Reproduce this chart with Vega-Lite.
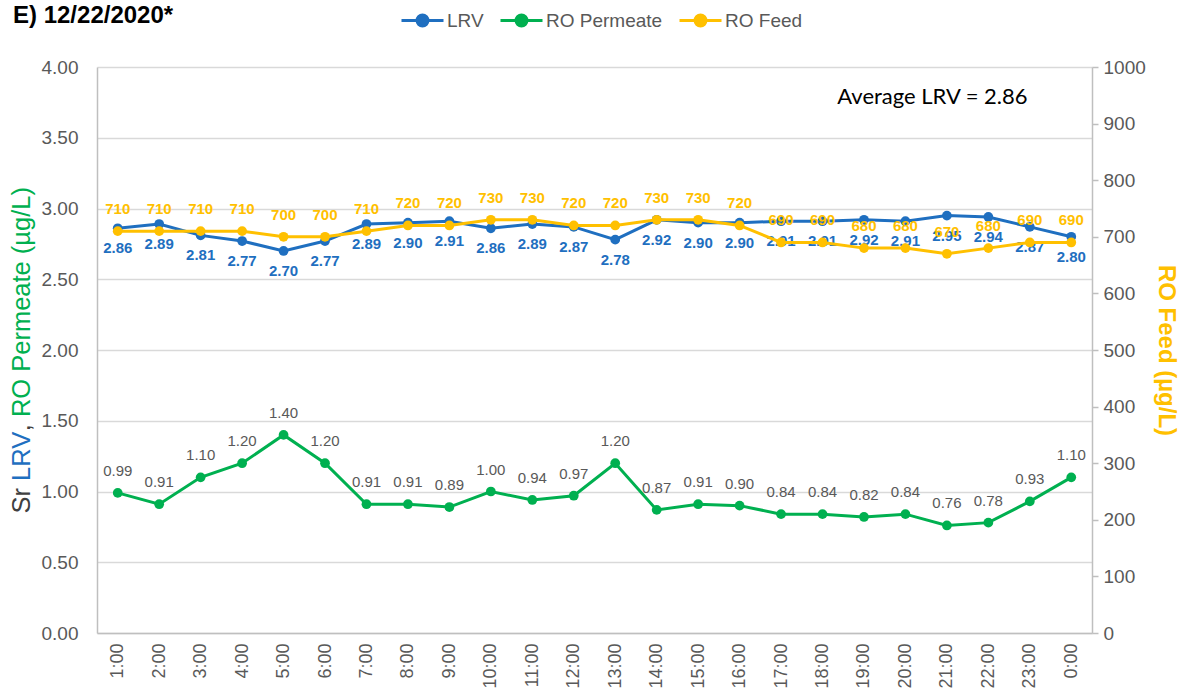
{
  "$schema": "https://vega.github.io/schema/vega-lite/v6.json",
  "autosize": {"type": "none"},
  "width": 995,
  "height": 566,
  "padding": {"left": 97, "top": 67, "right": 90, "bottom": 59},
  "background": "white",
  "config": {
    "font": "Liberation Sans",
    "view": {"stroke": null},
    "title": {"font": "Liberation Sans"},
    "axis": {"labelFont": "Liberation Sans", "titleFont": "Liberation Sans"},
    "legend": {"labelFont": "Liberation Sans"}
  },
  "title": {
    "text": "E) 12/22/2020*",
    "anchor": "start",
    "frame": "group",
    "fontSize": 24,
    "fontWeight": "bold",
    "color": "#000000",
    "dx": -84,
    "offset": 0,
    "dy": 30
  },
  "data": {
    "values": [
      {"hour": "1:00", "LRV": 2.86, "Permeate": 0.99, "Feed": 710},
      {"hour": "2:00", "LRV": 2.89, "Permeate": 0.91, "Feed": 710},
      {"hour": "3:00", "LRV": 2.81, "Permeate": 1.10, "Feed": 710},
      {"hour": "4:00", "LRV": 2.77, "Permeate": 1.20, "Feed": 710},
      {"hour": "5:00", "LRV": 2.70, "Permeate": 1.40, "Feed": 700},
      {"hour": "6:00", "LRV": 2.77, "Permeate": 1.20, "Feed": 700},
      {"hour": "7:00", "LRV": 2.89, "Permeate": 0.91, "Feed": 710},
      {"hour": "8:00", "LRV": 2.90, "Permeate": 0.91, "Feed": 720},
      {"hour": "9:00", "LRV": 2.91, "Permeate": 0.89, "Feed": 720},
      {"hour": "10:00", "LRV": 2.86, "Permeate": 1.00, "Feed": 730},
      {"hour": "11:00", "LRV": 2.89, "Permeate": 0.94, "Feed": 730},
      {"hour": "12:00", "LRV": 2.87, "Permeate": 0.97, "Feed": 720},
      {"hour": "13:00", "LRV": 2.78, "Permeate": 1.20, "Feed": 720},
      {"hour": "14:00", "LRV": 2.92, "Permeate": 0.87, "Feed": 730},
      {"hour": "15:00", "LRV": 2.90, "Permeate": 0.91, "Feed": 730},
      {"hour": "16:00", "LRV": 2.90, "Permeate": 0.90, "Feed": 720},
      {"hour": "17:00", "LRV": 2.91, "Permeate": 0.84, "Feed": 690},
      {"hour": "18:00", "LRV": 2.91, "Permeate": 0.84, "Feed": 690},
      {"hour": "19:00", "LRV": 2.92, "Permeate": 0.82, "Feed": 680},
      {"hour": "20:00", "LRV": 2.91, "Permeate": 0.84, "Feed": 680},
      {"hour": "21:00", "LRV": 2.95, "Permeate": 0.76, "Feed": 670},
      {"hour": "22:00", "LRV": 2.94, "Permeate": 0.78, "Feed": 680},
      {"hour": "23:00", "LRV": 2.87, "Permeate": 0.93, "Feed": 690},
      {"hour": "0:00", "LRV": 2.80, "Permeate": 1.10, "Feed": 690}
    ]
  },
  "encoding": {
    "x": {
      "field": "hour",
      "type": "ordinal",
      "sort": null,
      "scale": {"padding": 0.5},
      "axis": {
        "title": null,
        "labelAngle": -90,
        "labelAlign": "right",
        "labelBaseline": "middle",
        "labelFontSize": 18,
        "labelColor": "#595959",
        "labelPadding": 10,
        "ticks": false,
        "domainColor": "#bfbfbf",
        "domainWidth": 1.5,
        "grid": false
      }
    }
  },
  "layer": [
    {
      "encoding": {
        "y": {"type": "quantitative", "scale": {"domain": [0, 4]}}
      },
      "layer": [
        {
          "mark": {"type": "line", "strokeWidth": 3, "point": {"filled": true, "size": 95}},
          "encoding": {
            "y": {
              "field": "LRV",
              "axis": {
                "orient": "left",
                "title": null,
                "values": [0, 0.5, 1, 1.5, 2, 2.5, 3, 3.5, 4],
                "format": ".2f",
                "labelFontSize": 19,
                "labelColor": "#595959",
                "labelPadding": 19,
                "ticks": false,
                "domainColor": "#bfbfbf",
                "domainWidth": 1.5,
                "grid": true,
                "gridColor": "#d9d9d9",
                "gridWidth": 1.5
              }
            },
            "color": {
              "datum": "LRV",
              "scale": {"domain": ["LRV", "RO Permeate", "RO Feed"], "range": ["#1F6FC0", "#00B050", "#FFC000"]},
              "legend": {
                "title": null,
                "orient": "none",
                "direction": "horizontal",
                "legendX": 303,
                "legendY": -69,
                "symbolType": "M-1,0H1M-0.26,0A0.26,0.26 0 1,1 0.26,0A0.26,0.26 0 1,1 -0.26,0Z",
                "symbolSize": 1764,
                "symbolStrokeWidth": 3,
                "symbolOpacity": 1,
                "labelFontSize": 19,
                "labelColor": "#595959",
                "labelOffset": 2,
                "columnPadding": 10
              }
            }
          }
        },
        {
          "mark": {"type": "line", "strokeWidth": 3, "point": {"filled": true, "size": 95}},
          "encoding": {
            "y": {
              "field": "Permeate",
              "axis": {
                "orient": "left",
                "title": "RO Permeate (µg/L)",
                "titleColor": "#00B050",
                "titleFontSize": 25.5,
                "titleFontWeight": "normal",
                "titleX": -76,
                "titleY": 349.6,
                "titleAlign": "left",
                "titleBaseline": "middle",
                "labels": false, "ticks": false, "domain": false, "grid": false
              }
            },
            "color": {"datum": "RO Permeate"}
          }
        },
        {
          "mark": {"type": "text", "baseline": "top", "dy": 13, "fontSize": 15, "fontWeight": "bold", "color": "#1F6FC0"},
          "encoding": {
            "y": {
              "field": "LRV",
              "axis": {
                "orient": "left",
                "title": "LRV",
                "titleColor": "#1F6FC0",
                "titleFontSize": 25.5,
                "titleFontWeight": "normal",
                "titleX": -76,
                "titleY": 413.4,
                "titleAlign": "left",
                "titleBaseline": "middle",
                "labels": false, "ticks": false, "domain": false, "grid": false
              }
            },
            "text": {"field": "LRV", "type": "quantitative", "format": ".2f"}
          }
        },
        {
          "mark": {"type": "text", "baseline": "bottom", "dy": -14, "fontSize": 15, "color": "#595959"},
          "encoding": {
            "y": {
              "field": "Permeate",
              "axis": {
                "orient": "left",
                "title": "Sr",
                "titleColor": "#404040",
                "titleFontSize": 25.5,
                "titleFontWeight": "normal",
                "titleX": -76,
                "titleY": 446,
                "titleAlign": "left",
                "titleBaseline": "middle",
                "labels": false, "ticks": false, "domain": false, "grid": false
              }
            },
            "text": {"field": "Permeate", "type": "quantitative", "format": ".2f"}
          }
        },
        {
          "data": {"values": [{"label": "Average LRV = 2.86"}]},
          "mark": {"type": "text", "align": "center", "baseline": "middle", "fontSize": 22, "font": "Lato", "color": "#000000", "dx": 27},
          "encoding": {
            "x": {"datum": "20:00"},
            "y": {
              "datum": 3.79,
              "axis": {
                "orient": "left",
                "title": ",",
                "titleColor": "#404040",
                "titleFontSize": 25.5,
                "titleFontWeight": "normal",
                "titleX": -76,
                "titleY": 363.8,
                "titleAlign": "left",
                "titleBaseline": "middle",
                "labels": false, "ticks": false, "domain": false, "grid": false
              }
            },
            "text": {"field": "label"}
          }
        }
      ],
      "resolve": {"axis": {"y": "independent"}}
    },
    {
      "encoding": {
        "y": {
          "type": "quantitative",
          "scale": {"domain": [0, 1000]},
          "axis": {
            "orient": "right",
            "title": "RO Feed (µg/L)",
            "titleColor": "#FFC000",
            "titleFontSize": 24,
            "titleFontWeight": "bold",
            "titlePadding": 8,
            "values": [0, 100, 200, 300, 400, 500, 600, 700, 800, 900, 1000],
            "format": "d",
            "labelFontSize": 19,
            "labelColor": "#595959",
            "labelPadding": 5,
            "ticks": true,
            "tickSize": 6,
            "tickColor": "#bfbfbf",
            "tickWidth": 1.5,
            "domainColor": "#bfbfbf",
            "domainWidth": 1.5,
            "grid": false
          }
        }
      },
      "layer": [
        {
          "mark": {"type": "line", "strokeWidth": 3, "point": {"filled": true, "size": 95}},
          "encoding": {
            "y": {"field": "Feed"},
            "color": {"datum": "RO Feed"}
          }
        },
        {
          "mark": {"type": "text", "baseline": "bottom", "dy": -14, "fontSize": 15, "fontWeight": "bold", "color": "#FFC000"},
          "encoding": {
            "y": {"field": "Feed"},
            "text": {"field": "Feed", "type": "quantitative"}
          }
        }
      ]
    }
  ],
  "resolve": {"scale": {"y": "independent"}}
}
